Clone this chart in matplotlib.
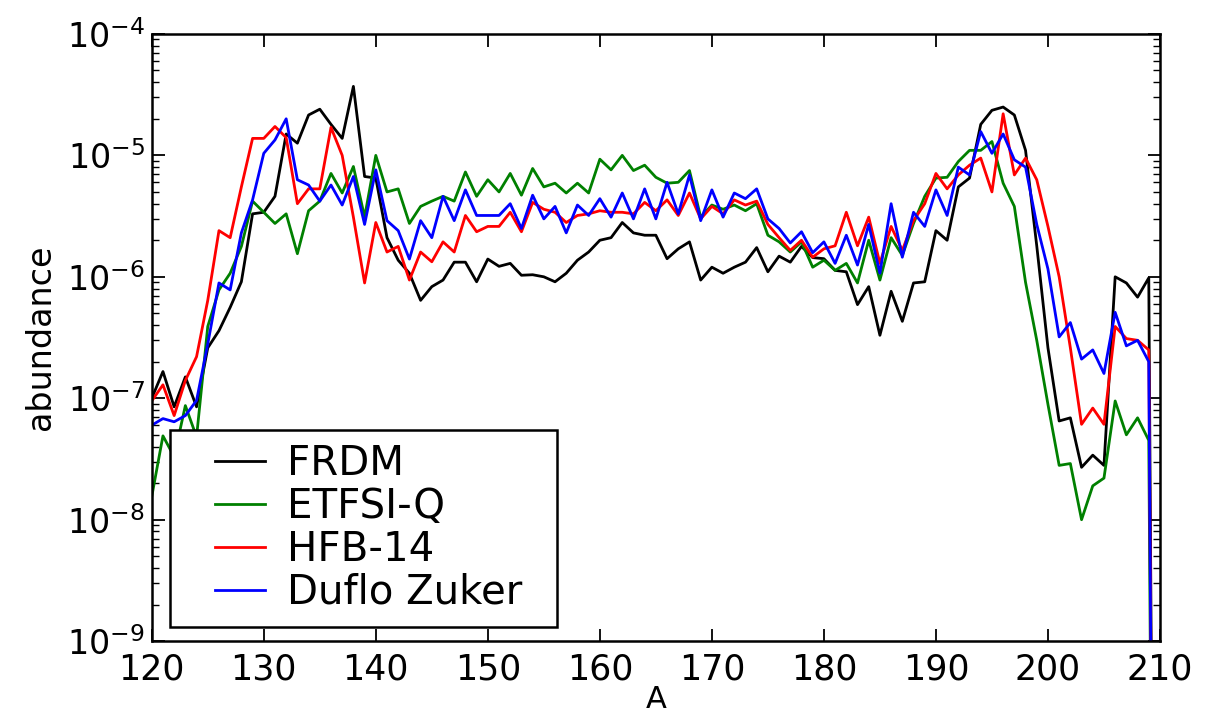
import numpy as np
import matplotlib.pyplot as plt
from matplotlib.legend_handler import HandlerLine2D

# mass number
A = list(range(120, 211))

# abundances (last point drops off the bottom)
frdm = [1.0e-7, 1.66e-7, 8.5e-8, 1.5e-7, 8.5e-8, 2.6e-7, 3.6e-7, 5.6e-7, 9.1e-7, 3.3e-6,
        3.4e-6, 4.6e-6, 1.5e-5, 1.26e-5, 2.15e-5, 2.4e-5, 1.8e-5, 1.38e-5, 3.7e-5, 6.7e-6,
        6.5e-6, 2.1e-6, 1.37e-6, 1.07e-6, 6.4e-7, 8.3e-7, 9.4e-7, 1.32e-6, 1.32e-6, 9.1e-7,
        1.4e-6, 1.22e-6, 1.29e-6, 1.03e-6, 1.04e-6, 1.0e-6, 9.1e-7, 1.07e-6, 1.37e-6, 1.6e-6,
        2.0e-6, 2.1e-6, 2.8e-6, 2.3e-6, 2.2e-6, 2.2e-6, 1.41e-6, 1.7e-6, 1.94e-6, 9.4e-7,
        1.2e-6, 1.07e-6, 1.2e-6, 1.32e-6, 1.74e-6, 1.1e-6, 1.48e-6, 1.32e-6, 1.78e-6, 1.44e-6,
        1.41e-6, 1.13e-6, 1.1e-6, 5.9e-7, 8.3e-7, 3.3e-7, 7.6e-7, 4.3e-7, 8.9e-7, 9.1e-7,
        2.4e-6, 2.0e-6, 5.5e-6, 6.5e-6, 1.8e-5, 2.35e-5, 2.5e-5, 2.15e-5, 1.1e-5, 1.8e-6,
        2.6e-7, 6.5e-8, 6.9e-8, 2.7e-8, 3.4e-8, 2.8e-8, 1.0e-6, 8.9e-7, 6.8e-7, 9.8e-7,
        1e-20]

etfsi_q = [1.55e-8, 4.9e-8, 3.3e-8, 8.7e-8, 4.8e-8, 3.9e-7, 7.8e-7, 1.07e-6, 1.78e-6, 4.2e-6,
           3.4e-6, 2.75e-6, 3.3e-6, 1.55e-6, 3.5e-6, 4.2e-6, 7.1e-6, 4.9e-6, 8.1e-6, 3.1e-6,
           1.0e-5, 5.0e-6, 5.3e-6, 2.75e-6, 3.8e-6, 4.2e-6, 4.6e-6, 4.2e-6, 7.3e-6, 4.6e-6,
           6.3e-6, 5.0e-6, 7.1e-6, 4.7e-6, 7.8e-6, 5.5e-6, 5.9e-6, 4.9e-6, 5.9e-6, 4.9e-6,
           9.3e-6, 7.6e-6, 1.0e-5, 7.5e-6, 8.3e-6, 6.6e-6, 5.9e-6, 6.0e-6, 7.5e-6, 3.1e-6,
           3.9e-6, 3.6e-6, 3.9e-6, 3.5e-6, 4.0e-6, 2.2e-6, 1.94e-6, 1.6e-6, 1.94e-6, 1.2e-6,
           1.37e-6, 1.13e-6, 1.29e-6, 8.9e-7, 2.0e-6, 9.4e-7, 2.1e-6, 1.5e-6, 2.75e-6, 4.6e-6,
           6.5e-6, 6.6e-6, 8.9e-6, 1.1e-5, 1.1e-5, 1.3e-5, 5.9e-6, 3.8e-6, 9e-7, 3.0e-7,
           8.9e-8, 2.8e-8, 2.9e-8, 1.0e-8, 1.9e-8, 2.2e-8, 9.5e-8, 5.0e-8, 6.9e-8, 4.5e-8,
           1e-20]

hfb_14 = [9.5e-8, 1.29e-7, 7.2e-8, 1.4e-7, 2.2e-7, 6.4e-7, 2.4e-6, 2.1e-6, 5.5e-6, 1.38e-5,
          1.38e-5, 1.73e-5, 1.4e-5, 4.0e-6, 5.3e-6, 5.3e-6, 1.7e-5, 1.0e-5, 3.1e-6, 8.9e-7,
          2.8e-6, 1.6e-6, 1.78e-6, 9.4e-7, 1.6e-6, 1.33e-6, 1.94e-6, 1.6e-6, 3.2e-6, 2.35e-6,
          2.6e-6, 2.6e-6, 3.4e-6, 2.35e-6, 4.1e-6, 3.6e-6, 3.4e-6, 2.8e-6, 3.2e-6, 3.3e-6,
          3.5e-6, 3.4e-6, 3.4e-6, 3.3e-6, 4.1e-6, 3.5e-6, 4.3e-6, 3.2e-6, 4.9e-6, 3.0e-6,
          3.8e-6, 3.3e-6, 4.3e-6, 3.9e-6, 4.2e-6, 2.7e-6, 2.1e-6, 1.65e-6, 2.0e-6, 1.45e-6,
          1.7e-6, 1.8e-6, 3.4e-6, 1.8e-6, 3.1e-6, 1.29e-6, 2.6e-6, 1.65e-6, 2.9e-6, 4.0e-6,
          7.1e-6, 5.3e-6, 6.9e-6, 8.3e-6, 9.5e-6, 5.0e-6, 2.2e-5, 6.9e-6, 9.5e-6, 6.3e-6,
          2.6e-6, 1.0e-6, 2.6e-7, 6.1e-8, 8.3e-8, 6.1e-8, 3.9e-7, 3.1e-7, 3.0e-7, 2.5e-7,
          1e-20]

duflo_zuker = [6.0e-8, 6.8e-8, 6.4e-8, 7.2e-8, 9.6e-8, 2.8e-7, 8.9e-7, 7.8e-7, 2.3e-6, 4.3e-6,
               1.04e-5, 1.34e-5, 2.0e-5, 6.3e-6, 5.7e-6, 4.2e-6, 5.7e-6, 3.9e-6, 6.7e-6, 2.7e-6,
               7.6e-6, 2.9e-6, 2.4e-6, 1.4e-6, 2.9e-6, 2.1e-6, 4.6e-6, 2.9e-6, 5.2e-6, 3.2e-6,
               3.2e-6, 3.2e-6, 4.0e-6, 2.5e-6, 4.7e-6, 3.0e-6, 3.8e-6, 2.3e-6, 3.9e-6, 3.2e-6,
               4.4e-6, 3.1e-6, 4.9e-6, 3.0e-6, 5.3e-6, 3.0e-6, 6.0e-6, 3.3e-6, 6.9e-6, 2.9e-6,
               5.2e-6, 3.1e-6, 4.9e-6, 4.4e-6, 5.3e-6, 3.0e-6, 2.5e-6, 1.9e-6, 2.35e-6, 1.58e-6,
               1.94e-6, 1.29e-6, 2.2e-6, 1.25e-6, 2.7e-6, 1.07e-6, 4.0e-6, 1.45e-6, 3.4e-6, 2.6e-6,
               5.2e-6, 3.2e-6, 8.0e-6, 6.9e-6, 1.57e-5, 1.04e-5, 1.5e-5, 9.2e-6, 8.0e-6, 2.7e-6,
               1.16e-6, 3.2e-7, 4.2e-7, 2.1e-7, 2.5e-7, 1.6e-7, 5.1e-7, 2.7e-7, 3.0e-7, 2.0e-7,
               1e-20]


# legend line drawn only in the right part of the handle box (old-style look)
class ShortLine(HandlerLine2D):
    def get_xdata(self, legend, xdescent, ydescent, width, height, fontsize):
        x = np.array([-xdescent + 0.38 * width, -xdescent + width])
        return x, x


plt.rcParams['font.family'] = 'DejaVu Sans'

fig = plt.figure(figsize=(12.14, 7.22), dpi=100)
ax = fig.add_axes([0.125, 0.112, 0.8305, 0.841])

ax.plot(A, frdm, color='k', linewidth=2.0, label='FRDM')
ax.plot(A, etfsi_q, color='#008000', linewidth=2.0, label='ETFSI-Q')
ax.plot(A, hfb_14, color='#ff0000', linewidth=2.0, label='HFB-14')
ax.plot(A, duflo_zuker, color='#0000ff', linewidth=2.0, label='Duflo Zuker')

ax.set_yscale('log')
ax.set_xlim(120, 210)
ax.set_ylim(1e-9, 1e-4)
ax.set_xticks(np.arange(120, 211, 10))

ax.set_xlabel('A', fontsize=22, labelpad=-1)
ax.set_ylabel('abundance', fontsize=24, labelpad=7)

ax.tick_params(which='both', direction='in', top=True, right=True)
ax.tick_params(axis='x', labelsize=25, pad=8)
ax.tick_params(axis='y', labelsize=24, pad=5)
ax.tick_params(which='major', length=9, width=1.3)
ax.tick_params(which='minor', length=5, width=1.0)
for s in ax.spines.values():
    s.set_linewidth(1.8)

leg = ax.legend(loc='lower left', bbox_to_anchor=(0.0179, 0.023, 0.384, 0.3), mode='expand',
                borderaxespad=0, fontsize=29, fancybox=False, framealpha=1,
                handlelength=2.0, handletextpad=0.55, labelspacing=0.07, borderpad=0.36,
                handler_map={plt.Line2D: ShortLine()})
leg.get_frame().set_edgecolor('k')
leg.get_frame().set_linewidth(1.8)

plt.savefig('out.png', dpi=100)
